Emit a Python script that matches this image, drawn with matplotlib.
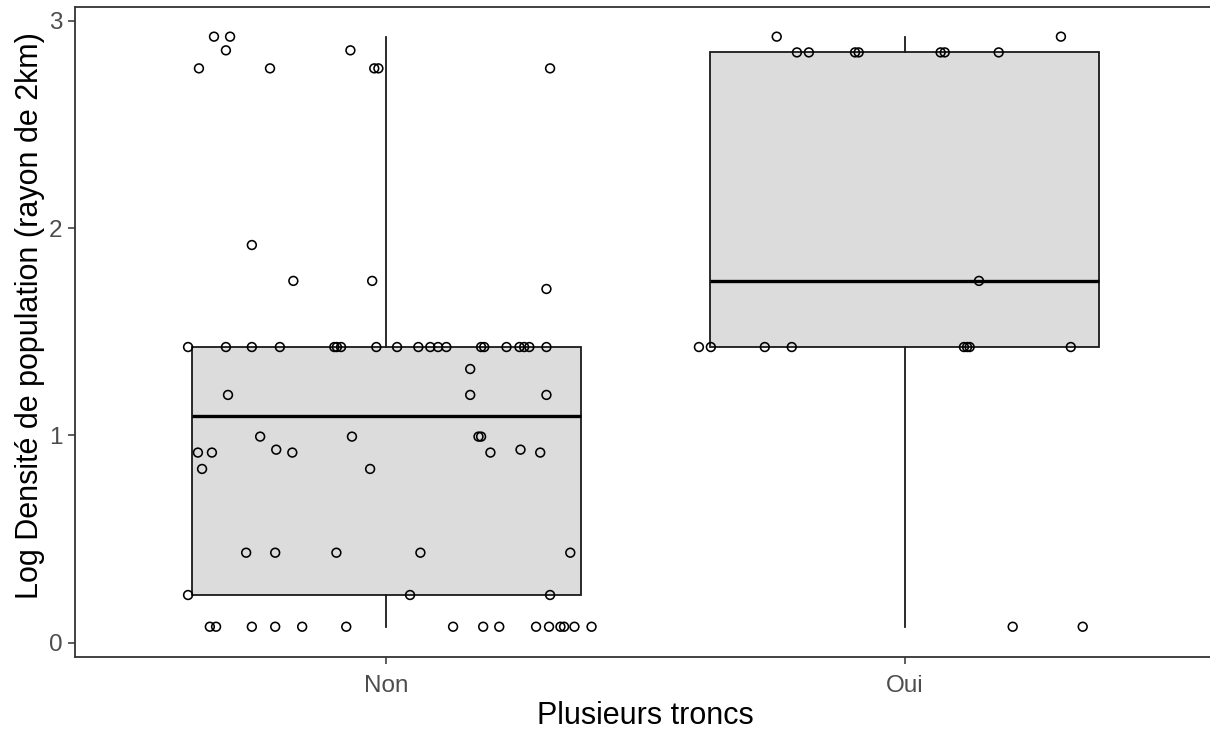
import matplotlib
matplotlib.use("Agg")
import matplotlib.pyplot as plt

plt.rcParams['font.family'] = ['Liberation Sans', 'DejaVu Sans']

categories = ["Non", "Oui"]

# box statistics
box_whislo = [0.077, 0.077]
box_q1 = [0.23, 1.426]
box_med = [1.095, 1.745]
box_q3 = [1.426, 2.847]
box_whishi = [2.923, 2.923]

# jittered points (x in category units, y values)
non_x = [0.639, 0.668, 0.699, 0.691, 0.776, 0.741, 0.931, 0.977, 0.985, 1.316,
         0.821, 0.973, 1.309,
         0.618, 0.691, 0.741, 0.795, 0.900, 0.905, 0.913, 0.981, 1.021, 1.062,
         1.085, 1.100, 1.116, 1.183, 1.189, 1.232, 1.257, 1.266, 1.276, 1.309,
         1.162,
         0.695, 1.162, 1.309,
         0.757, 0.934, 1.178, 1.183,
         0.788, 1.259,
         0.637, 0.664, 0.819, 1.201, 1.297,
         0.645, 0.969,
         0.730, 0.786, 0.904, 1.066, 1.355,
         0.618, 1.046, 1.316,
         0.660, 0.672, 0.741, 0.786, 0.838, 0.923, 1.129, 1.187, 1.218, 1.289,
         1.314, 1.336, 1.343, 1.363, 1.396]
non_y = [2.77, 2.923, 2.923, 2.857, 2.77, 1.918, 2.857, 2.77, 2.77, 2.77,
         1.745, 1.745, 1.706,
         1.426, 1.426, 1.426, 1.426, 1.426, 1.426, 1.426, 1.426, 1.426, 1.426,
         1.426, 1.426, 1.426, 1.426, 1.426, 1.426, 1.426, 1.426, 1.426, 1.426,
         1.32,
         1.195, 1.195, 1.195,
         0.994, 0.994, 0.994, 0.994,
         0.931, 0.931,
         0.917, 0.917, 0.917, 0.917, 0.917,
         0.838, 0.838,
         0.434, 0.434, 0.434, 0.434, 0.434,
         0.23, 0.23, 0.23,
         0.077, 0.077, 0.077, 0.077, 0.077, 0.077, 0.077, 0.077, 0.077, 0.077,
         0.077, 0.077, 0.077, 0.077, 0.077]

oui_x = [1.753, 2.301,
         1.792, 1.815, 1.904, 1.911, 2.069, 2.077, 2.181,
         2.143,
         1.603, 1.626, 1.730, 1.782, 2.114, 2.120, 2.125, 2.320,
         2.208, 2.343]
oui_y = [2.923, 2.923,
         2.847, 2.847, 2.847, 2.847, 2.847, 2.847, 2.847,
         1.745,
         1.426, 1.426, 1.426, 1.426, 1.426, 1.426, 1.426, 1.426,
         0.077, 0.077]

fig = plt.figure(figsize=(12.10, 7.34), dpi=100)
# panel runs slightly past the right edge (the reference image is cropped there)
ax = fig.add_axes([75 / 1210, 77 / 734, (1216 - 75) / 1210, (657 - 7) / 734])

stats = []
for i in range(len(categories)):
    stats.append(dict(whislo=box_whislo[i], q1=box_q1[i], med=box_med[i],
                      q3=box_q3[i], whishi=box_whishi[i], fliers=[]))

ax.bxp(stats, positions=[1, 2], widths=0.75, showfliers=False, showcaps=False,
       patch_artist=True,
       boxprops=dict(facecolor='#DCDCDC', edgecolor='#1a1a1a', linewidth=1.3),
       whiskerprops=dict(color='#1a1a1a', linewidth=1.3),
       medianprops=dict(color='black', linewidth=2.4),
       zorder=2)

ax.scatter(non_x + oui_x, non_y + oui_y, s=40, facecolors='none',
           edgecolors='black', linewidths=1.15, zorder=3)

ax.set_xlim(0.4, 2.6)
ax.set_ylim(-0.069, 3.066)
ax.set_xticks([1, 2])
ax.set_xticklabels(categories)
ax.set_yticks([0, 1, 2, 3])
ax.set_yticklabels(['0', '1', '2', '3'])

for s in ['left', 'bottom', 'top']:
    ax.spines[s].set_color('#333333')
    ax.spines[s].set_linewidth(1.3)
ax.spines['right'].set_visible(False)

ax.tick_params(axis='both', colors='#333333', width=1.1, length=5,
               labelsize=17.5, labelcolor='#4D4D4D')
ax.tick_params(axis='x', pad=8)
ax.tick_params(axis='y', pad=4)

ax.set_xlabel("Plusieurs troncs", fontsize=22, color='black', labelpad=3)
ax.set_ylabel("Log Densité de population (rayon de 2km)", fontsize=22,
              color='black', ha='center', va='center')
ax.yaxis.set_label_coords(-(75 - 30) / 1141, 0.526)

fig.savefig("out.png", dpi=100)
